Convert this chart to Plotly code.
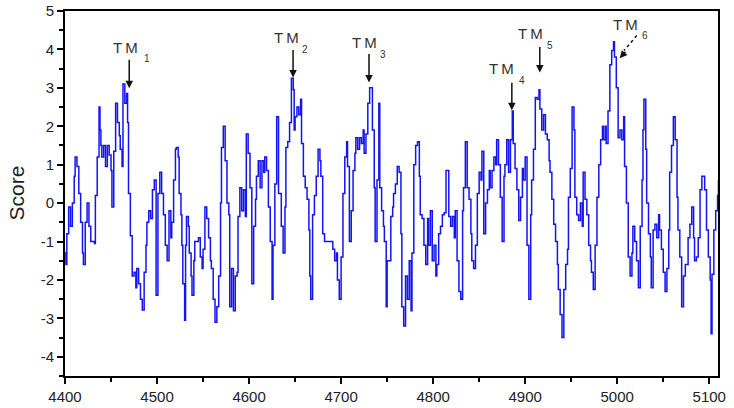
import plotly.graph_objects as go

# residue positions and hydropathy scores
residue = [
 4400,4401,4402,4404,4406,4408,4410,4411,4413,4415,4417,4419,4420,4422,4424,4426,4428,4430,4432,4433,
 4435,4437,4438,4439,4440,4442,4444,4446,4448,4450,4451,4453,4455,4457,4459,4460,4462,4463,4465,4467,
 4468,4469,4471,4473,4475,4477,4478,4480,4482,4484,4486,4488,4489,4491,4493,4495,4497,4499,4501,4503,
 4505,4507,4509,4511,4513,4515,4516,4518,4520,4521,4523,4524,4526,4527,4528,4530,4531,4532,4534,4535,
 4537,4538,4540,4541,4543,4545,4547,4549,4550,4552,4554,4556,4558,4559,4561,4563,4565,4567,4569,4570,
 4572,4574,4576,4578,4579,4581,4583,4585,4587,4588,4590,4592,4594,4596,4597,4599,4601,4603,4605,4607,
 4608,4610,4612,4614,4616,4617,4619,4621,4623,4625,4626,4628,4630,4632,4635,4637,4639,4640,4642,4644,
 4646,4648,4649,4650,4652,4654,4656,4657,4659,4661,4663,4665,4666,4667,4669,4671,4673,4675,4677,4678,
 4680,4682,4686,4689,4691,4693,4695,4696,4698,4700,4702,4704,4706,4707,4709,4711,4713,4715,4716,4718,
 4720,4722,4724,4725,4727,4729,4731,4733,4734,4736,4737,4739,4741,4742,4744,4746,4747,4749,4750,4752,
 4754,4756,4757,4759,4761,4763,4765,4766,4768,4770,4772,4774,4776,4777,4779,4781,4783,4785,4786,4788,
 4790,4792,4794,4795,4797,4799,4801,4803,4804,4806,4808,4810,4812,4814,4817,4819,4821,4823,4824,4826,
 4828,4830,4832,4833,4835,4837,4839,4841,4842,4844,4846,4848,4850,4852,4853,4855,4857,4859,4861,4862,
 4864,4866,4868,4869,4871,4873,4875,4877,4878,4880,4882,4884,4886,4887,4889,4891,4893,4895,4897,4898,
 4900,4902,4904,4906,4907,4909,4911,4913,4915,4916,4918,4920,4922,4924,4926,4927,4929,4931,4933,4935,
 4936,4938,4940,4942,4944,4946,4947,4949,4951,4953,4954,4956,4958,4960,4962,4963,4965,4967,4969,4971,
 4972,4974,4976,4978,4980,4982,4984,4985,4987,4988,4990,4992,4994,4996,4997,4999,5001,5003,5005,5007,
 5008,5010,5012,5014,5016,5017,5019,5021,5023,5025,5027,5028,5029,5031,5032,5034,5036,5037,5039,5041,
 5043,5045,5046,5048,5050,5052,5054,5056,5057,5059,5061,5063,5065,5066,5068,5070,5072,5074,5077,5079,
 5081,5083,5084,5086,5088,5090,5092,5093,5095,5097,5099,5101,5102,5103,5105,5107,5109,5110]

score = [
 -1.3,-1.6,-0.8,-0.1,-0.6,0.0,0.7,1.2,0.95,0.25,-0.5,-1.3,-1.6,-0.5,0.0,-0.6,-1.0,-1.0,-1.05,0.2,
 1.2,2.5,1.9,1.5,1.2,1.5,0.95,1.5,1.25,0.85,-0.1,1.35,2.6,2.1,1.75,1.4,0.95,3.1,2.6,2.85,
 2.1,0.25,-0.85,-1.9,-1.8,-2.2,-1.7,-2.1,-2.5,-2.78,-1.8,-1.1,-0.5,-0.2,-0.4,0.35,0.6,-2.4,0.25,0.8,
 0.25,-0.3,-1.1,-1.5,-0.2,-0.9,-0.5,0.6,1.4,1.45,1.2,0.25,-0.3,-1.1,-2.1,-3.05,-1.1,-0.35,-0.6,-1.3,
 -1.9,-2.4,-1.5,-1.0,-1.0,-0.9,-1.4,-1.7,-1.2,-0.1,-0.4,-0.9,-1.5,-1.7,-2.5,-3.1,-2.7,-1.9,0.0,1.45,
 2.0,1.1,0.0,-0.3,-2.7,-1.7,-2.8,-1.9,-1.8,-0.35,0.4,-0.2,0.35,-0.35,1.8,1.3,0.4,-2.1,-0.6,0.1,
 0.7,1.1,0.4,1.1,0.8,1.2,0.85,-0.1,-1.0,-2.5,-1.1,0.5,2.25,0.25,-0.6,-1.3,-0.1,1.45,1.6,2.1,
 3.25,2.95,1.9,2.25,2.5,2.3,2.7,1.55,0.7,0.4,0.1,-0.7,-1.9,-2.5,-0.3,0.2,0.7,1.4,1.1,0.7,
 -0.8,-1.0,-1.0,-1.0,-1.2,-1.5,-1.3,-2.0,-2.5,-1.4,0.25,1.2,1.6,0.95,-1.0,-0.2,0.85,1.3,1.7,1.4,
 1.7,1.55,1.9,1.3,1.8,2.6,3.0,3.0,1.9,0.4,-1.0,0.6,2.6,0.4,-0.2,-0.6,-1.0,-2.7,-1.5,-1.5,
 -0.35,-0.1,0.25,0.5,0.95,0.8,-0.8,-2.7,-3.2,-1.9,-2.5,-1.5,-2.8,-1.3,1.0,1.5,1.6,0.7,-0.3,-0.4,
 -1.1,-1.6,-0.4,-1.1,-0.2,-1.5,-1.1,-1.9,-1.6,-0.8,-0.6,-0.3,-0.25,0.85,-0.35,-0.6,-0.35,-0.9,-0.2,-1.5,
 -2.3,-2.5,-0.2,0.4,1.6,0.4,0.1,-0.8,-1.5,-1.7,-1.1,0.25,0.8,0.6,1.35,-0.8,0.0,0.35,0.85,0.4,
 0.85,1.2,1.0,1.65,1.0,0.15,-1.0,0.7,1.0,1.65,0.8,1.65,2.4,1.55,0.9,0.35,-0.45,0.15,0.9,0.6,
 1.2,-1.1,-2.5,-0.3,0.6,1.4,2.75,2.7,2.95,2.45,1.9,2.3,1.8,1.65,1.1,0.8,0.1,-0.55,-1.0,-1.6,
 -2.25,-2.9,-3.5,-2.25,-1.6,-1.2,0.15,0.9,2.5,1.9,0.15,-0.3,-0.45,0.0,-0.6,0.8,0.1,-0.3,-1.1,-1.5,
 -1.8,-2.25,-1.1,0.15,1.0,1.65,2.0,1.65,2.0,1.55,2.4,3.6,3.97,4.2,3.8,3.0,1.7,1.9,1.65,2.25,
 0.95,0.0,-1.4,-1.9,-1.3,-0.6,-1.0,-1.5,-2.2,-0.6,0.6,1.9,2.7,1.4,0.0,-0.8,-1.4,-2.2,-0.7,-0.55,
 -0.9,-0.3,-0.7,-1.2,-1.8,-2.3,-1.7,-0.7,0.8,1.5,2.25,1.65,0.15,-0.7,-1.4,-2.7,-1.9,-1.6,-0.9,-0.55,
 -0.1,-0.9,-1.5,-1.4,-0.9,0.35,0.7,0.7,0.35,-0.7,-1.4,-2.0,-3.4,-1.85,-0.7,-0.2,0.2,0.6]

x_ticks = [4400, 4500, 4600, 4700, 4800, 4900, 5000, 5100]
x_tick_labels = ["4400", "4500", "4600", "4700", "4800", "4900", "5000", "5100"]
y_ticks = [-4, -3, -2, -1, 0, 1, 2, 3, 4, 5]
y_tick_labels = ["-4", "-3", "-2", "-1", "0", "1", "2", "3", "4", "5"]

# TM segment markers: label, subscript, arrow tip (residue, score)
tm_names = ["T\u2009M"] * 6
tm_subs = ["1", "2", "3", "4", "5", "6"]
tm_tip_x = [4469.8, 4647.8, 4730.3, 4885.5, 4915.9, 5002.7]
tm_tip_y = [2.99, 3.27, 3.14, 2.42, 3.40, 3.77]
tm_label_x = [4465.4, 4640.2, 4725.4, 4874.1, 4905.6, 5008.7]
tm_label_y = [4.05, 4.31, 4.18, 3.51, 4.42, 4.65]
tm_sub_x = [4489.3, 4660.8, 4745.5, 4896.3, 4926.8, 5029.9]
tm_sub_y = [3.77, 4.00, 3.87, 3.19, 4.10, 4.36]
tm_arrow_ax = [0, 0, 0, 0, 0, 7]
tm_arrow_ay = [-30, -29, -30, -29, -27, -8]

FONT = "Liberation Sans, Arial, sans-serif"

fig = go.Figure()
fig.add_trace(go.Scatter(
    x=residue, y=score, mode="lines",
    line=dict(color="#1414F0", width=1.5, shape="hv"),
    showlegend=False, hoverinfo="skip"))

annotations = []
for i in range(len(tm_names)):
    annotations.append(dict(x=tm_label_x[i], y=tm_label_y[i], xref="x", yref="y",
                            text=tm_names[i], showarrow=False,
                            font=dict(family=FONT, size=15, color="#333333"),
                            xanchor="center", yanchor="middle"))
    annotations.append(dict(x=tm_sub_x[i], y=tm_sub_y[i], xref="x", yref="y",
                            text=tm_subs[i], showarrow=False,
                            font=dict(family=FONT, size=10, color="#333333"),
                            xanchor="center", yanchor="middle"))
    annotations.append(dict(x=tm_tip_x[i], y=tm_tip_y[i], xref="x", yref="y",
                            text="", showarrow=True, arrowhead=2, arrowsize=1,
                            arrowwidth=1.5, arrowcolor="#111111",
                            ax=tm_arrow_ax[i], ay=tm_arrow_ay[i]))

# dashed tail of the TM6 arrow
fig.add_shape(type="line", xref="x", yref="y", x0=5021.3, y0=4.36, x1=5007.2, y1=3.97,
              line=dict(color="#111111", width=1.5, dash="dot"))

# y-axis title as paper-positioned annotation to keep margins fixed
annotations.append(dict(x=-0.075, y=0.5, xref="paper", yref="paper", text="Score",
                        showarrow=False, textangle=-90,
                        font=dict(family=FONT, size=21, color="#222222"),
                        xanchor="center", yanchor="middle"))

fig.update_layout(
    width=734, height=408,
    margin=dict(l=65, r=16, t=11, b=32, autoexpand=False),
    paper_bgcolor="white", plot_bgcolor="white",
    annotations=annotations,
    font=dict(family=FONT, color="#222222"),
)
fig.update_xaxes(
    range=[4400, 5109.5], showgrid=False, zeroline=False, automargin=False,
    showline=True, linecolor="black", linewidth=2, mirror=True,
    ticks="outside", ticklen=6, tickwidth=1.5, tickcolor="black",
    tickvals=x_ticks, ticktext=x_tick_labels,
    tickfont=dict(family=FONT, size=15, color="#222222"),
    minor=dict(dtick=50, tick0=4400, ticks="outside", ticklen=4, tickwidth=1.5, tickcolor="black"),
)
fig.update_yaxes(
    range=[-4.5, 5], showgrid=False, zeroline=False, automargin=False,
    showline=True, linecolor="black", linewidth=2, mirror=True,
    ticks="outside", ticklen=6, tickwidth=1.5, tickcolor="black",
    tickvals=y_ticks, ticktext=y_tick_labels,
    tickfont=dict(family=FONT, size=15, color="#222222"),
    minor=dict(dtick=0.5, tick0=0, ticks="outside", ticklen=4, tickwidth=1.5, tickcolor="black"),
)

fig.write_html("out.html", config={"displayModeBar": False},
               post_script="document.body.style.margin='0';document.body.style.overflow='hidden';")
